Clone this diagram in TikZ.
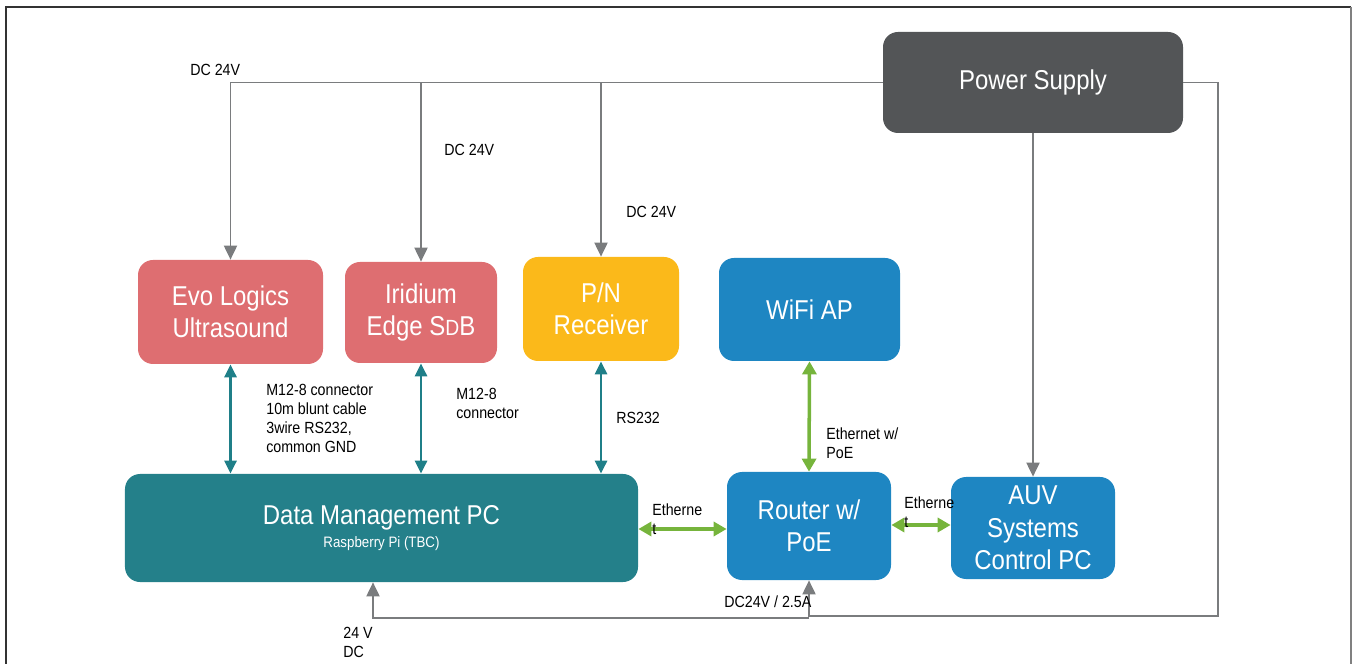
\documentclass[tikz,border=0pt]{standalone}
\usepackage{fontspec}
\setmainfont{Liberation Sans}[FakeStretch=0.88]
\usepackage{tikz}
\usetikzlibrary{
  arrows.meta,
  positioning
}
\definecolor{psucolor}{HTML}{535557}
\definecolor{sensorcolor}{HTML}{DE6E71}
\definecolor{rxcolor}{HTML}{FBB91A}
\definecolor{netcolor}{HTML}{1E86C2}
\definecolor{pccolor}{HTML}{24808A}
\definecolor{pwrline}{HTML}{7A7C7E}
\definecolor{serline}{HTML}{1F7F88}
\definecolor{ethline}{HTML}{76B43C}
\newcommand{\boxfont}{\fontsize{15.5}{18.5}\selectfont}
\newcommand{\lblfont}{\fontsize{9.2}{10.8}\selectfont}

\begin{document}
\begin{tikzpicture}[
  x=0.2mm, y=-0.2mm,
  box/.style={rounded corners=3mm, text=white, align=center, font=\boxfont, inner sep=0pt},
  lbl/.style={font=\lblfont, align=left, anchor=west, inner sep=0pt},
  pwr/.style={draw=pwrline, line width=1.1pt, -{Triangle[length=2.8mm,width=2.6mm]}},
  ser/.style={draw=serline, line width=1.6pt,
    {Triangle[length=2.6mm,width=2.4mm]}-{Triangle[length=2.6mm,width=2.4mm]}},
  eth/.style={draw=ethline, line width=2pt,
    {Triangle[length=2.6mm,width=2.8mm]}-{Triangle[length=2.6mm,width=2.8mm]}},
]
  \useasboundingbox (0,0) rectangle (1356,664);
  \draw[line width=0.9pt, black!80] (6,664) -- (6,7) -- (1351,7);
  \draw[line width=0.9pt, black!50] (1351,7) -- (1351,664);

  % Boxes
  \node[box, fill=psucolor, minimum width=6cm, minimum height=2.02cm] (psu) at (1033,82.5) {Power Supply};
  \node[box, fill=sensorcolor, minimum width=3.7cm, minimum height=2.08cm] (evo) at (230.5,312) {Evo Logics\\Ultrasound};
  \node[box, fill=sensorcolor, minimum width=3.04cm, minimum height=2.02cm] (irid) at (421,312.5)
    {Iridium\\Edge S{\fontsize{12.5}{12.5}\selectfont D}B};
  \node[box, fill=rxcolor, minimum width=3.12cm, minimum height=2.08cm] (pn) at (601,309) {P/N\\Receiver};
  \node[box, fill=netcolor, minimum width=3.62cm, minimum height=2.06cm] (wifi) at (809.5,309.5) {WiFi AP};
  \node[box, fill=pccolor, minimum width=10.26cm, minimum height=2.16cm] (dmpc) at (381.5,528)
    {Data Management PC\\[-5pt]{\fontsize{8.6}{10}\selectfont Raspberry Pi (TBC)}};
  \node[box, fill=netcolor, minimum width=3.28cm, minimum height=2.16cm] (router) at (809,526) {Router w/\\PoE};
  \node[box, fill=netcolor, minimum width=3.28cm, minimum height=2.04cm] (auv) at (1033,528) {AUV\\Systems\\Control PC};

  % Power
  \coordinate (loop) at (1218,616);
  \draw[pwr] (psu.west) -| (evo.north);
  \draw[pwr] (irid.north |- psu.west) -- (irid.north);
  \draw[pwr] (pn.north |- psu.west) -- (pn.north);
  \draw[pwr] (psu.south) -- (auv.north);
  \draw[pwr] (psu.east) -| (loop) -| (router.south);
  \draw[pwr] ([yshift=-0.4mm]loop -| router.south) -| ([xshift=-1.7mm]dmpc.south);

  % Serial links
  \draw[ser] (evo.south) -- (evo.south |- dmpc.north);
  \draw[ser] (irid.south) -- (irid.south |- dmpc.north);
  \draw[ser] (pn.south) -- (pn.south |- dmpc.north);

  % Ethernet
  \draw[eth] (wifi.south) -- (router.north);
  \draw[eth] ([yshift=-0.2mm]dmpc.east) -- ([yshift=-0.2mm]dmpc.east -| router.west);
  \draw[eth] ([yshift=0.2mm]router.east) -- ([yshift=0.2mm]router.east -| auv.west);

  % Labels
  \node[lbl] (dc1) at (190,70) {DC 24V};
  \node[lbl] (dc2) at (444,150) {DC 24V};
  \node[lbl] (dc3) at (626,212) {DC 24V};
  \node[lbl] (evolink) at (266,418.5) {M12-8 connector\\10m blunt cable\\3wire RS232,\\common GND};
  \node[lbl] (iridlink) at (456,403.5) {M12-8\\connector};
  \node[lbl] (pnlink) at (616,418) {RS232};
  \node[lbl] (wifilink) at (826,443) {Ethernet w/\\PoE};
  \node[lbl] (pclink) at (652,519) {Etherne\\t};
  \node[lbl] (auvlink) at (904,512) {Etherne\\t};
  \node[lbl] (routerdc) at (724,602) {DC24V / 2.5A};
  \node[lbl] (pcdc) at (343,642.5) {24 V\\DC};
\end{tikzpicture}
\end{document}
